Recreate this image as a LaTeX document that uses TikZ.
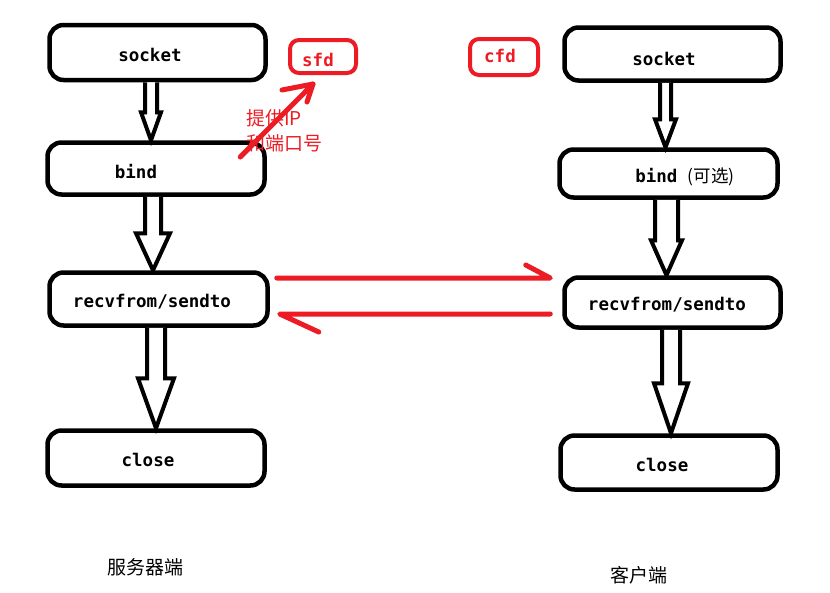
\documentclass[tikz,border=0pt]{standalone}
\usepackage{fontspec}
\usetikzlibrary{calc}
\newfontfamily\boxfont{DejaVu Sans Mono}
\newfontfamily\cjk{Noto Sans CJK SC}
\definecolor{paintred}{HTML}{ED1C24}

\tikzset{
  box/.style={draw=black, line width=4.5pt, rounded corners=14pt, inner sep=0pt},
  tag/.style={draw=paintred, line width=4pt, rounded corners=9pt, inner sep=0pt},
  lbl/.style={font=\boxfont\bfseries\fontsize{17.5}{20}\selectfont, inner sep=0pt},
  redlbl/.style={lbl, text=paintred},
  hollow/.style={draw=black, line width=4pt, fill=white, line join=miter},
  redline/.style={draw=paintred, line width=5pt, line cap=round, line join=round},
  note/.style={font=\cjk\fontsize{19}{22}\selectfont, text=paintred, inner sep=0pt, anchor=west},
  side/.style={font=\cjk\fontsize{19}{22}\selectfont, inner sep=0pt},
}

% hollow block arrow: #1 from node, #2 to node, #3 x of axis,
% #4 shaft half width, #5 head half width, #6 head length
\newcommand\holarrow[6]{%
  \draw[hollow] let \p1=(#1.south), \p2=(#2.north) in
    (#3pt-#4pt,\y1) -- (#3pt-#4pt,\y2+#6pt) -- (#3pt-#5pt,\y2+#6pt) --
    (#3pt,\y2) -- (#3pt+#5pt,\y2+#6pt) -- (#3pt+#4pt,\y2+#6pt) -- (#3pt+#4pt,\y1);}

\begin{document}
\begin{tikzpicture}[x=1pt, y=-1pt]
\path[use as bounding box, fill=white] (0,0) rectangle (830,592);

% server side
\node[box, minimum width=216pt, minimum height=55pt,
  label={[lbl,xshift=-7.5pt,yshift=-2.5pt]center:socket}] (Lsock) at (157.5,52.5) {};
\node[box, minimum width=217pt, minimum height=52pt,
  label={[lbl,xshift=-20pt,yshift=-3.5pt]center:bind}] (Lbind) at (156,168.5) {};
\node[box, minimum width=218pt, minimum height=53pt,
  label={[lbl,xshift=-6.5pt,yshift=-3pt]center:recvfrom/sendto}] (Lrecv) at (158.5,299) {};
\node[box, minimum width=217pt, minimum height=55pt,
  label={[lbl,xshift=-8pt,yshift=-2pt]center:close}] (Lclose) at (156,458) {};

% client side
\node[box, minimum width=216pt, minimum height=53pt,
  label={[lbl,xshift=-8.5pt,yshift=-5pt]center:socket}] (Rsock) at (672.5,54) {};
\node[box, minimum width=218pt, minimum height=48pt,
  label={[lbl,xshift=16.5pt,yshift=-3.5pt]center:bind {\cjk\mdseries (可选)}}] (Rbind) at (668.5,173.5) {};
\node[box, minimum width=216pt, minimum height=50pt,
  label={[lbl,xshift=-5.5pt,yshift=-2.5pt]center:recvfrom/sendto}] (Rrecv) at (672.5,302.5) {};
\node[box, minimum width=217pt, minimum height=54pt,
  label={[lbl,xshift=-7pt,yshift=-2.5pt]center:close}] (Rclose) at (669,462.5) {};

% descriptors
\node[tag, minimum width=66pt, minimum height=33pt,
  label={[redlbl,xshift=-5pt,yshift=-3.5pt]center:sfd}] (sfd) at (323,56.5) {};
\node[tag, minimum width=68pt, minimum height=36pt,
  label={[redlbl,xshift=-4pt,yshift=1pt]center:cfd}] (cfd) at (504,57) {};

% call order
\holarrow{Lsock}{Lbind}{151}{6}{10}{28}
\holarrow{Lbind}{Lrecv}{153}{8}{17}{37}
\holarrow{Lrecv}{Lclose}{156}{9}{18}{50}
\holarrow{Rsock}{Rbind}{665.5}{5.5}{10.5}{28}
\holarrow{Rbind}{Rrecv}{666.5}{11.5}{15.5}{35}
\holarrow{Rrecv}{Rclose}{671}{9}{17}{50}

% bind hands address and port to sfd
\coordinate (ipTail) at ($(Lbind.east)+(-26.5,-11.5)$);
\coordinate (ipTip) at ($(sfd.south)+(-10,9)$);
\draw[redline] (ipTail) -- (ipTip);
\draw[redline] ($(ipTip)+(-31,6)$) -- (ipTip) -- ($(ipTip)+(-6,18)$);
\node[note] (ip1) at (246,118) {提供IP};
\node[note] (ip2) at (246,143) {和端口号};

% datagram exchange
\coordinate (sendA) at ($(Lrecv.east)+(7,-21)$);
\coordinate (sendB) at ($(Rrecv.west)+(-12,-24.5)$);
\draw[redline] (sendA) -- (sendB) -- ($(sendB)+(-24.5,-13)$);
\coordinate (backA) at ($(Rrecv.west)+(-12,11.5)$);
\coordinate (backB) at ($(Lrecv.east)+(10,15)$);
\draw[redline] (backA) -- (backB) -- ($(backB)+(39,18)$);

% captions
\node[side] (srv) at (145,567) {服务器端};
\node[side] (cli) at (639,575) {客户端};
\end{tikzpicture}
\end{document}
